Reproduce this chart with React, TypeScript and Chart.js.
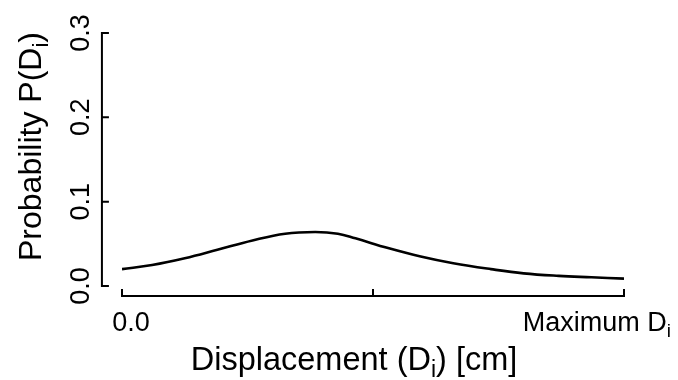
import { useEffect, useRef } from "react";
import { Chart, registerables } from "chart.js";

Chart.register(...registerables);

// Displacement as a percentage of the maximum displacement D_i
const displacement = [0, 6, 12.5, 19, 26, 32.5, 38.5, 43, 46.5, 53, 59.5, 66, 73.5, 80, 87, 93.5, 100];
// Probability P(D_i) at each displacement
const probability = [
  0.02, 0.025, 0.033, 0.043, 0.054, 0.062, 0.064, 0.062, 0.0565, 0.045, 0.035, 0.027, 0.02, 0.015,
  0.012, 0.0103, 0.0087,
];

const yTicks = [0, 0.1, 0.2, 0.3];
const xTicks = [0, 50, 100];
const xTickText = ["0.0", "", "Maximum D"];
const xTickSub = ["", "", "i"];

const FONT = '"Liberation Sans", Arial, Helvetica, sans-serif';
const TICK_SIZE = 27;
const XTITLE_SIZE = 32.5;
const YTITLE_SIZE = 32;

// Draws a run of text pieces, some of them as subscripts
function drawSubText(
  ctx: CanvasRenderingContext2D,
  parts: { t: string; sub?: boolean }[],
  x: number,
  y: number,
  size: number,
  align: "left" | "center" | "right"
) {
  const subSize = Math.round(size * 0.7);
  const widths = parts.map((p) => {
    ctx.font = `${p.sub ? subSize : size}px ${FONT}`;
    return ctx.measureText(p.t).width;
  });
  const total = widths.reduce((s, w) => s + w, 0);
  let cx = align === "left" ? x : align === "center" ? x - total / 2 : x - total;
  ctx.textAlign = "left";
  ctx.textBaseline = "alphabetic";
  parts.forEach((p, i) => {
    ctx.font = `${p.sub ? subSize : size}px ${FONT}`;
    ctx.fillText(p.t, cx, p.sub ? y + size * 0.22 : y);
    cx += widths[i];
  });
}

const rAxes = {
  id: "rAxes",
  afterDraw(chart: any) {
    const { ctx, chartArea: a, scales } = chart;
    const xs = scales.x;
    const ys = scales.y;
    const axisX = a.left - 0.04 * (a.right - a.left);
    const axisY = a.bottom + 0.04 * (a.bottom - a.top);
    const tick = 7;

    ctx.save();
    ctx.strokeStyle = "#000";
    ctx.fillStyle = "#000";
    ctx.lineWidth = 2;
    ctx.lineCap = "butt";

    // Left axis: line plus ticks pointing into the plot
    ctx.beginPath();
    const yTop = ys.getPixelForValue(yTicks[yTicks.length - 1]);
    const yBot = ys.getPixelForValue(yTicks[0]);
    ctx.moveTo(axisX, yBot + 1);
    ctx.lineTo(axisX, yTop - 1);
    yTicks.forEach((v) => {
      const py = ys.getPixelForValue(v);
      ctx.moveTo(axisX - 1, py);
      ctx.lineTo(axisX + tick, py);
    });
    ctx.stroke();

    // Bottom axis
    ctx.beginPath();
    const xL = xs.getPixelForValue(xTicks[0]);
    const xR = xs.getPixelForValue(xTicks[xTicks.length - 1]);
    ctx.moveTo(xL - 1, axisY);
    ctx.lineTo(xR + 1, axisY);
    xTicks.forEach((v) => {
      const px = xs.getPixelForValue(v);
      ctx.moveTo(px, axisY + 1);
      ctx.lineTo(px, axisY - tick);
    });
    ctx.stroke();

    // Left tick labels, rotated
    yTicks.forEach((v) => {
      const py = ys.getPixelForValue(v);
      ctx.save();
      ctx.translate(axisX - 13, py);
      ctx.rotate(-Math.PI / 2);
      ctx.font = `${TICK_SIZE}px ${FONT}`;
      ctx.textAlign = "center";
      ctx.textBaseline = "alphabetic";
      ctx.fillText(v.toFixed(1), 0, 0);
      ctx.restore();
    });

    // Bottom tick labels
    const labelY = axisY + 35;
    xTicks.forEach((v, i) => {
      if (!xTickText[i]) return;
      const px = xs.getPixelForValue(v);
      const parts = [{ t: xTickText[i] }, ...(xTickSub[i] ? [{ t: xTickSub[i], sub: true }] : [])];
      if (i === 0) drawSubText(ctx, parts, px + 9, labelY, TICK_SIZE, "center");
      else drawSubText(ctx, parts, px + 47, labelY, TICK_SIZE, "right");
    });

    // Axis titles
    drawSubText(
      ctx,
      [{ t: "Displacement (D" }, { t: "i", sub: true }, { t: ") [cm]" }],
      (a.left + a.right) / 2 - 19,
      axisY + 74,
      XTITLE_SIZE,
      "center"
    );
    ctx.save();
    ctx.translate(41, (a.top + a.bottom) / 2 - 13);
    ctx.rotate(-Math.PI / 2);
    drawSubText(
      ctx,
      [{ t: "Probability P(D" }, { t: "i", sub: true }, { t: ")" }],
      0,
      0,
      YTITLE_SIZE,
      "center"
    );
    ctx.restore();

    ctx.restore();
  },
};

export default function App() {
  const ref = useRef<HTMLCanvasElement>(null);

  useEffect(() => {
    if (!ref.current) return;
    const chart = new Chart(ref.current, {
      type: "line",
      data: {
        datasets: [
          {
            data: displacement.map((x, i) => ({ x, y: probability[i] })),
            borderColor: "#000",
            borderWidth: 2.6,
            pointRadius: 0,
            tension: 0.4,
            fill: false,
          },
        ],
      },
      options: {
        responsive: false,
        animation: false,
        devicePixelRatio: 1,
        layout: { padding: { left: 122, right: 54, top: 33, bottom: 94 } },
        plugins: { legend: { display: false }, tooltip: { enabled: false } },
        scales: {
          x: { type: "linear", min: 0, max: 100, display: false },
          y: { type: "linear", min: 0, max: 0.3, display: false },
        },
      },
      plugins: [rAxes],
    });
    return () => chart.destroy();
  }, []);

  return (
    <div style={{ position: "fixed", left: 0, top: 0, width: 678, height: 380, background: "#fff" }}>
      <canvas ref={ref} width={678} height={380} />
    </div>
  );
}
